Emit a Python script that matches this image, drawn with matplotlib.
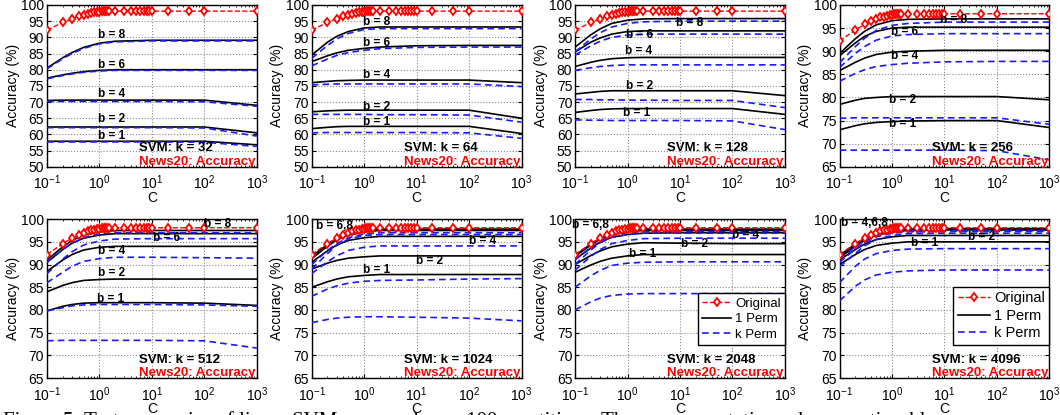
import numpy as np
import matplotlib
matplotlib.use("Agg")
import matplotlib.pyplot as plt
from matplotlib.lines import Line2D

plt.rcParams['font.family'] = ['Liberation Sans', 'DejaVu Sans']
plt.rcParams['mathtext.default'] = 'regular'

# ---- data ----
b_values = [1, 2, 4, 6, 8]
k_values = [32, 64, 128, 256, 512, 1024, 2048, 4096]
C_grid = [0.1, 0.2, 0.3, 0.5, 1, 2, 10, 100, 1000]

C_orig = [0.1, 0.2, 0.3, 0.4, 0.5, 0.6, 0.7, 0.8, 0.9, 1.0, 1.1, 1.2, 1.3, 1.4, 1.5,
          2, 3, 4, 5, 6, 7, 8, 9, 10, 20, 50, 100, 1000]
acc_orig = [92.2, 94.6, 95.8, 96.5, 97.0, 97.3, 97.5, 97.7, 97.8, 97.9, 98.0, 98.0, 98.0, 98.0, 98.0,
            98.1, 98.1, 98.1, 98.1, 98.1, 98.1, 98.1, 98.1, 98.1, 98.1, 98.1, 98.1, 98.1]

# rows: b = 1, 2, 4, 6, 8
k32_1perm = [[57.9, 57.9, 57.9, 57.9, 57.9, 57.9, 57.9, 57.9, 56.8],
             [62.3, 62.3, 62.3, 62.3, 62.3, 62.3, 62.3, 62.3, 60.5],
             [70.5, 70.6, 70.6, 70.6, 70.6, 70.6, 70.6, 70.6, 69.0],
             [77.4, 78.4, 78.9, 79.4, 79.8, 80.0, 80.0, 80.0, 80.0],
             [80.5, 83.7, 85.3, 86.9, 88.2, 88.8, 89.1, 89.1, 89.1]]
k32_kperm = [[57.7, 57.7, 57.7, 57.7, 57.7, 57.7, 57.7, 57.6, 56.3],
             [62.1, 62.1, 62.1, 62.1, 62.1, 62.1, 62.1, 62.0, 59.5],
             [70.2, 70.2, 70.2, 70.2, 70.2, 70.2, 70.2, 70.1, 68.7],
             [77.2, 78.2, 78.7, 79.2, 79.6, 79.8, 79.8, 79.8, 79.8],
             [80.3, 83.4, 85.0, 86.6, 88.0, 88.6, 88.9, 88.9, 88.9]]

k64_1perm = [[61.8, 62.2, 62.4, 62.5, 62.5, 62.5, 62.5, 62.5, 60.3],
             [67.0, 67.3, 67.4, 67.5, 67.5, 67.5, 67.5, 67.5, 65.0],
             [76.0, 76.4, 76.6, 76.7, 76.8, 76.8, 76.8, 76.8, 76.0],
             [82.5, 84.3, 85.2, 86.0, 86.6, 87.0, 87.4, 87.5, 87.5],
             [84.5, 88.5, 90.3, 91.8, 92.9, 93.2, 93.2, 93.2, 93.2]]
k64_kperm = [[60.5, 60.6, 60.6, 60.6, 60.6, 60.6, 60.6, 60.5, 58.8],
             [66.2, 66.2, 66.2, 66.2, 66.2, 66.1, 66.1, 66.0, 63.8],
             [75.3, 75.5, 75.6, 75.6, 75.6, 75.6, 75.6, 75.6, 74.8],
             [81.2, 83.3, 84.4, 85.3, 86.0, 86.5, 86.9, 87.0, 87.0],
             [83.5, 87.5, 89.5, 91.2, 92.4, 92.7, 92.7, 92.7, 92.7]]

k128_1perm = [[66.8, 67.4, 67.7, 67.9, 68.0, 68.0, 68.0, 68.0, 66.2],
              [72.5, 73.0, 73.3, 73.5, 73.5, 73.5, 73.5, 73.5, 72.0],
              [81.0, 82.3, 82.9, 83.4, 83.7, 83.8, 83.8, 83.8, 83.8],
              [85.5, 88.5, 89.8, 91.0, 91.8, 92.0, 92.0, 92.0, 92.0],
              [87.0, 90.8, 92.6, 94.3, 95.3, 95.7, 95.8, 95.8, 95.8]]
k128_kperm = [[64.5, 64.4, 64.4, 64.3, 64.3, 64.3, 64.3, 64.2, 61.5],
              [70.8, 70.8, 70.7, 70.7, 70.6, 70.6, 70.5, 70.5, 68.3],
              [79.8, 80.6, 81.0, 81.3, 81.5, 81.5, 81.5, 81.5, 81.5],
              [84.5, 87.4, 88.8, 90.0, 90.7, 91.0, 91.0, 91.0, 91.0],
              [85.5, 89.5, 91.4, 93.2, 94.3, 94.8, 95.0, 95.0, 95.0]]

k256_1perm = [[73.0, 73.9, 74.3, 74.6, 74.8, 74.9, 75.0, 75.0, 73.5],
              [78.5, 79.4, 79.8, 80.0, 80.2, 80.2, 80.2, 80.2, 79.5],
              [85.8, 87.6, 88.5, 89.3, 89.8, 90.0, 90.2, 90.2, 90.2],
              [89.0, 91.8, 93.2, 94.3, 95.0, 95.2, 95.2, 95.2, 95.2],
              [89.5, 92.7, 94.3, 95.7, 96.6, 96.9, 97.0, 97.0, 97.0]]
k256_kperm = [[68.6, 68.6, 68.6, 68.6, 68.6, 68.6, 68.6, 68.5, 66.5],
              [75.5, 75.6, 75.6, 75.6, 75.6, 75.6, 75.6, 75.6, 74.2],
              [83.5, 85.2, 86.0, 86.7, 87.1, 87.4, 87.7, 87.8, 87.8],
              [86.5, 89.5, 91.0, 92.4, 93.3, 93.6, 93.8, 93.8, 93.8],
              [87.5, 91.0, 92.8, 94.5, 95.6, 96.0, 96.3, 96.3, 96.3]]

k512_1perm = [[79.8, 80.8, 81.2, 81.5, 81.6, 81.6, 81.6, 81.5, 81.0],
              [84.0, 85.4, 86.0, 86.5, 86.7, 86.8, 86.8, 86.8, 86.8],
              [88.5, 91.0, 92.2, 93.2, 93.8, 94.0, 94.0, 94.0, 94.0],
              [90.5, 93.3, 94.7, 95.8, 96.5, 96.8, 96.8, 96.8, 96.8],
              [91.0, 93.9, 95.3, 96.5, 97.2, 97.5, 97.5, 97.5, 97.5]]
k512_kperm = [[73.2, 73.3, 73.3, 73.3, 73.3, 73.3, 73.3, 73.2, 71.6],
              [79.8, 80.5, 80.9, 81.1, 81.2, 81.2, 81.2, 81.1, 80.8],
              [86.0, 88.3, 89.6, 90.7, 91.3, 91.6, 91.6, 91.5, 91.4],
              [88.0, 91.2, 92.8, 94.3, 95.2, 95.6, 95.7, 95.7, 95.7],
              [90.5, 93.3, 94.7, 95.9, 96.7, 97.0, 97.0, 97.0, 97.0]]

k1024_1perm = [[85.0, 86.2, 86.8, 87.3, 87.6, 87.8, 87.8, 87.8, 87.8],
               [89.0, 90.3, 90.9, 91.4, 91.7, 91.9, 91.9, 91.9, 91.9],
               [90.5, 93.0, 94.3, 95.3, 95.9, 96.2, 96.2, 96.2, 96.2],
               [91.3, 94.0, 95.4, 96.5, 97.2, 97.5, 97.5, 97.5, 97.5],
               [91.8, 94.4, 95.7, 96.8, 97.5, 97.8, 97.8, 97.8, 97.8]]
k1024_kperm = [[77.2, 77.9, 78.2, 78.4, 78.5, 78.5, 78.4, 78.2, 77.6],
               [83.0, 84.6, 85.3, 85.9, 86.3, 86.5, 86.6, 86.8, 86.9],
               [88.0, 90.6, 91.9, 93.1, 93.8, 94.1, 94.1, 94.1, 94.1],
               [89.0, 92.4, 94.2, 95.6, 96.4, 96.6, 96.6, 96.6, 96.6],
               [90.0, 93.1, 94.6, 95.9, 96.7, 97.0, 97.0, 97.0, 97.0]]

k2048_1perm = [[88.3, 89.9, 90.7, 91.4, 91.9, 92.2, 92.2, 92.2, 92.2],
               [90.0, 92.0, 93.0, 93.9, 94.5, 94.8, 94.7, 94.6, 94.6],
               [91.2, 93.6, 94.9, 96.0, 96.6, 96.9, 97.0, 97.0, 97.0],
               [91.8, 94.3, 95.6, 96.7, 97.3, 97.5, 97.5, 97.5, 97.5],
               [92.0, 94.5, 95.8, 96.9, 97.5, 97.8, 97.8, 97.8, 97.8]]
k2048_kperm = [[80.0, 81.8, 82.6, 83.2, 83.5, 83.6, 83.6, 83.6, 83.6],
               [85.0, 87.5, 88.7, 89.8, 90.3, 90.5, 90.6, 90.6, 90.6],
               [88.8, 91.8, 93.3, 94.6, 95.3, 95.7, 95.8, 95.8, 95.8],
               [90.0, 93.2, 94.8, 96.0, 96.6, 96.9, 96.9, 96.9, 96.9],
               [91.0, 93.8, 95.2, 96.4, 97.0, 97.3, 97.3, 97.3, 97.3]]

k4096_1perm = [[90.0, 92.2, 93.3, 94.2, 94.7, 95.0, 95.0, 95.0, 95.0],
               [91.0, 93.3, 94.5, 95.5, 96.1, 96.4, 96.4, 96.4, 96.4],
               [91.5, 94.0, 95.3, 96.5, 97.2, 97.5, 97.6, 97.6, 97.6],
               [91.8, 94.3, 95.5, 96.7, 97.4, 97.7, 97.8, 97.8, 97.8],
               [92.0, 94.5, 95.7, 96.8, 97.5, 97.8, 97.9, 97.9, 97.9]]
k4096_kperm = [[82.0, 85.2, 86.6, 87.7, 88.3, 88.6, 88.8, 88.8, 88.8],
               [86.0, 89.6, 91.2, 92.4, 93.1, 93.4, 93.5, 93.5, 93.5],
               [89.5, 92.5, 94.1, 95.5, 96.4, 96.8, 96.9, 96.9, 96.9],
               [90.5, 93.4, 94.8, 96.1, 96.9, 97.2, 97.3, 97.3, 97.3],
               [91.2, 93.9, 95.2, 96.4, 97.1, 97.4, 97.5, 97.5, 97.5]]

one_perm = [k32_1perm, k64_1perm, k128_1perm, k256_1perm,
            k512_1perm, k1024_1perm, k2048_1perm, k4096_1perm]
k_perm = [k32_kperm, k64_kperm, k128_kperm, k256_kperm,
          k512_kperm, k1024_kperm, k2048_kperm, k4096_kperm]

# b labels: (text, C, accuracy)
b_labels = [
    [("b = 8", 1.7, 90.6), ("b = 6", 1.7, 81.6), ("b = 4", 1.7, 72.4), ("b = 2", 1.7, 64.8), ("b = 1", 1.7, 59.4)],
    [("b = 8", 1.7, 94.6), ("b = 6", 1.7, 88.2), ("b = 4", 1.7, 78.4), ("b = 2", 1.7, 68.6), ("b = 1", 1.7, 63.8)],
    [("b = 8", 15, 94.4), ("b = 6", 1.7, 90.7), ("b = 4", 1.6, 85.8), ("b = 2", 1.7, 75.1), ("b = 1", 1.5, 66.6)],
    [("b = 8", 15, 96.7), ("b = 6", 1.7, 94.1), ("b = 4", 1.7, 89.0), ("b = 2", 1.6, 79.4), ("b = 1", 1.6, 74.2)],
    [("b = 8", 180, 99.0), ("b = 6", 19, 95.8), ("b = 4", 1.7, 92.9), ("b = 2", 1.7, 88.1), ("b = 1", 1.6, 82.5)],
    [("b = 6,8", 0.27, 98.4), ("b = 4", 180, 95.1), ("b = 2", 18, 90.7), ("b = 1", 1.7, 88.9)],
    [("b = 6,8", 0.2, 98.8), ("b = 4", 180, 96.6), ("b = 2", 19, 94.5), ("b = 1", 1.9, 92.3)],
    [("b = 4,6,8", 0.3, 99.1), ("b = 2", 50, 96.0), ("b = 1", 4.2, 94.7)],
]

ylims = [(50, 100), (50, 100), (50, 100), (65, 100),
         (65, 100), (65, 100), (65, 100), (65, 100)]

# ---- layout ----
fig = plt.figure(figsize=(10.6, 4.15), dpi=100)
lefts = [0.0443, 0.294, 0.5425, 0.792]
w = 0.198
rows = [(0.598, 0.390), (0.089, 0.383)]

for i, k in enumerate(k_values):
    r, c = divmod(i, 4)
    bottom, h = rows[r]
    ax = fig.add_axes([lefts[c], bottom, w, h])

    ax.plot(C_orig, acc_orig, 'r--', marker='d', ms=4.5, mfc='white', mec='red',
            mew=1.3, lw=1.0, label='Original', zorder=5)
    for j in range(len(b_values)):
        ax.plot(C_grid, one_perm[i][j], 'k-', lw=1.2,
                label='1 Perm' if j == 0 else None, zorder=3)
        ax.plot(C_grid, k_perm[i][j], '--', color='#1a1aff', lw=1.2,
                dashes=(4, 2.5), label='k Perm' if j == 0 else None, zorder=4)

    for txt, cx, cy in b_labels[i]:
        ax.text(cx, cy, txt, ha='center', va='center', fontsize=8.5,
                fontweight='bold', zorder=6)

    ax.set_xscale('log')
    ax.set_xlim(0.1, 1000)
    ax.set_ylim(*ylims[i])
    ax.set_yticks(np.arange(ylims[i][0], 100.1, 5))
    ax.set_xticks([0.1, 1, 10, 100, 1000])
    ax.grid(True, which='major', linestyle=':', color='#888888', lw=0.8)
    ax.tick_params(direction='in', which='both', top=True, right=True,
                   labelsize=10)
    ax.tick_params(axis='y', pad=2)
    ax.tick_params(axis='x', pad=5)
    ax.tick_params(which='major', length=3)
    ax.tick_params(which='minor', length=1.5)
    ax.set_xlabel('C', fontsize=10, labelpad=-1)
    ax.set_ylabel('Accuracy (%)', fontsize=10, labelpad=1)
    for s in ax.spines.values():
        s.set_linewidth(1.0)

    ax.text(0.44, 0.115, f'SVM: k = {k}', transform=ax.transAxes,
            fontsize=9.5, fontweight='bold', ha='left', va='center', zorder=7)
    ax.text(0.995, 0.03, 'News20: Accuracy', transform=ax.transAxes, color='red',
            fontsize=9.5, fontweight='bold', ha='right', va='center', zorder=7)

    if k in (2048, 4096):
        handles = [Line2D([], [], color='red', ls='--', marker='d', ms=4.5,
                          mfc='white', mec='red', mew=1.3, lw=1.0),
                   Line2D([], [], color='k', lw=1.2),
                   Line2D([], [], color='#1a1aff', ls='--', dashes=(4, 2.5), lw=1.2)]
        fs = 9.5 if k == 2048 else 10.5
        ax.legend(handles, ['Original', '1 Perm', 'k Perm'], loc='lower right',
                  bbox_to_anchor=(1.0, 0.21), fontsize=fs, frameon=True,
                  fancybox=False, edgecolor='black', framealpha=1,
                  handlelength=2.2, handletextpad=0.3, borderpad=0.3,
                  labelspacing=0.25, borderaxespad=0.0)

fig.text(0.003, -0.038, 'Figure 5: Test accuracies of linear SVM averaged over 100 repetitions. '
         'The one permutation scheme noticeably',
         fontsize=15, family='Liberation Serif', ha='left', va='bottom')

fig.savefig('out.png', dpi=100)
